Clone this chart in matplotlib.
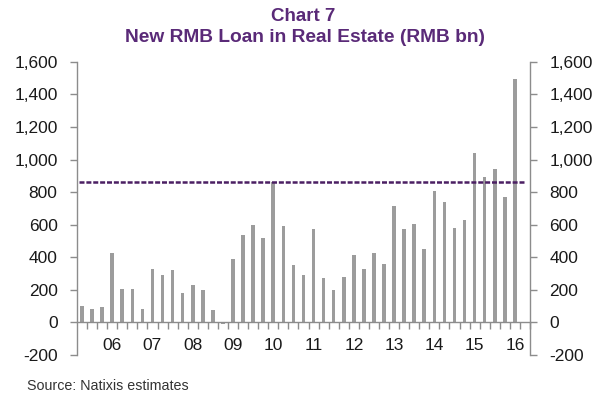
import matplotlib
matplotlib.use("Agg")
import matplotlib.pyplot as plt
from matplotlib.ticker import FixedLocator, FuncFormatter

plt.rcParams['font.family'] = ['Liberation Sans', 'DejaVu Sans']

# Quarterly new RMB loans in real estate (RMB bn), 2005Q2 .. 2016Q1
values = [102, 80, 92, 428, 202, 202, 80, 330, 292, 322, 179, 230, 198, 73, -8,
          389, 538, 599, 520, 860, 595, 353, 292, 571, 273, 198, 277, 416, 330,
          426, 359, 714, 575, 605, 449, 809, 742, 581, 630, 1042, 891, 942, 773, 1498]
year_labels = ['06', '07', '08', '09', '10', '11', '12', '13', '14', '15', '16']
year_label_index = [3, 7, 11, 15, 19, 23, 27, 31, 35, 39, 43]
reference_level = 860
y_ticks = [-200, 0, 200, 400, 600, 800, 1000, 1200, 1400, 1600]

purple_title = '#5a2a78'
purple_line = '#4b1f63'
bar_color = '#9c9c9c'
axis_color = '#8c8c8c'

fig = plt.figure(figsize=(6.0, 3.97), dpi=100)
ax = fig.add_axes([0.1283, 0.106, 0.7550, 0.738])

x = list(range(len(values)))
ax.bar(x, values, width=0.36, color=bar_color, zorder=2)

ax.plot([-0.3, len(values) - 0.05], [reference_level, reference_level],
        color=purple_line, lw=1.8, linestyle=(0, (2.0, 0.75)), zorder=3)

ax.set_xlim(-0.5, len(values) + 0.5)
ax.set_ylim(-200, 1600)

ax.spines['top'].set_visible(False)
ax.spines['bottom'].set_position(('data', 0))
for s in ['bottom', 'left', 'right']:
    ax.spines[s].set_color(axis_color)
    ax.spines[s].set_linewidth(1.0)

ax.yaxis.set_major_locator(FixedLocator(y_ticks))
ax.yaxis.set_major_formatter(FuncFormatter(lambda v, p: f"{int(v):,}"))
ax.tick_params(axis='y', which='major', left=True, right=True, labelleft=True,
               labelright=True, direction='out', length=5, width=1.0,
               color=axis_color, labelsize=12.5, labelcolor='#1a1a1a', pad=9)

# x ticks at bar boundaries, labels at year positions
ax.xaxis.set_major_locator(FixedLocator([i + 0.5 for i in range(len(values) + 1)]))
ax.xaxis.set_major_formatter(FuncFormatter(lambda v, p: ''))
ax.xaxis.set_minor_locator(FixedLocator(year_label_index))
ax.xaxis.set_minor_formatter(FuncFormatter(
    lambda v, p: year_labels[year_label_index.index(int(round(v)))] if int(round(v)) in year_label_index else ''))
ax.tick_params(axis='x', which='major', direction='out', length=5, width=1.0, color=axis_color)
ax.tick_params(axis='x', which='minor', length=0, labelsize=12.5, labelcolor='#1a1a1a', pad=11)

fig.text(0.505, 0.958, 'Chart 7', ha='center', va='center', fontsize=13.5,
         fontweight='bold', color=purple_title)
fig.text(0.508, 0.905, 'New RMB Loan in Real Estate (RMB bn)', ha='center', va='center',
         fontsize=13.8, fontweight='bold', color=purple_title)
fig.text(0.045, 0.028, 'Source: Natixis estimates', ha='left', va='center',
         fontsize=10.3, color='#333333')

fig.savefig('out.png', dpi=100)
